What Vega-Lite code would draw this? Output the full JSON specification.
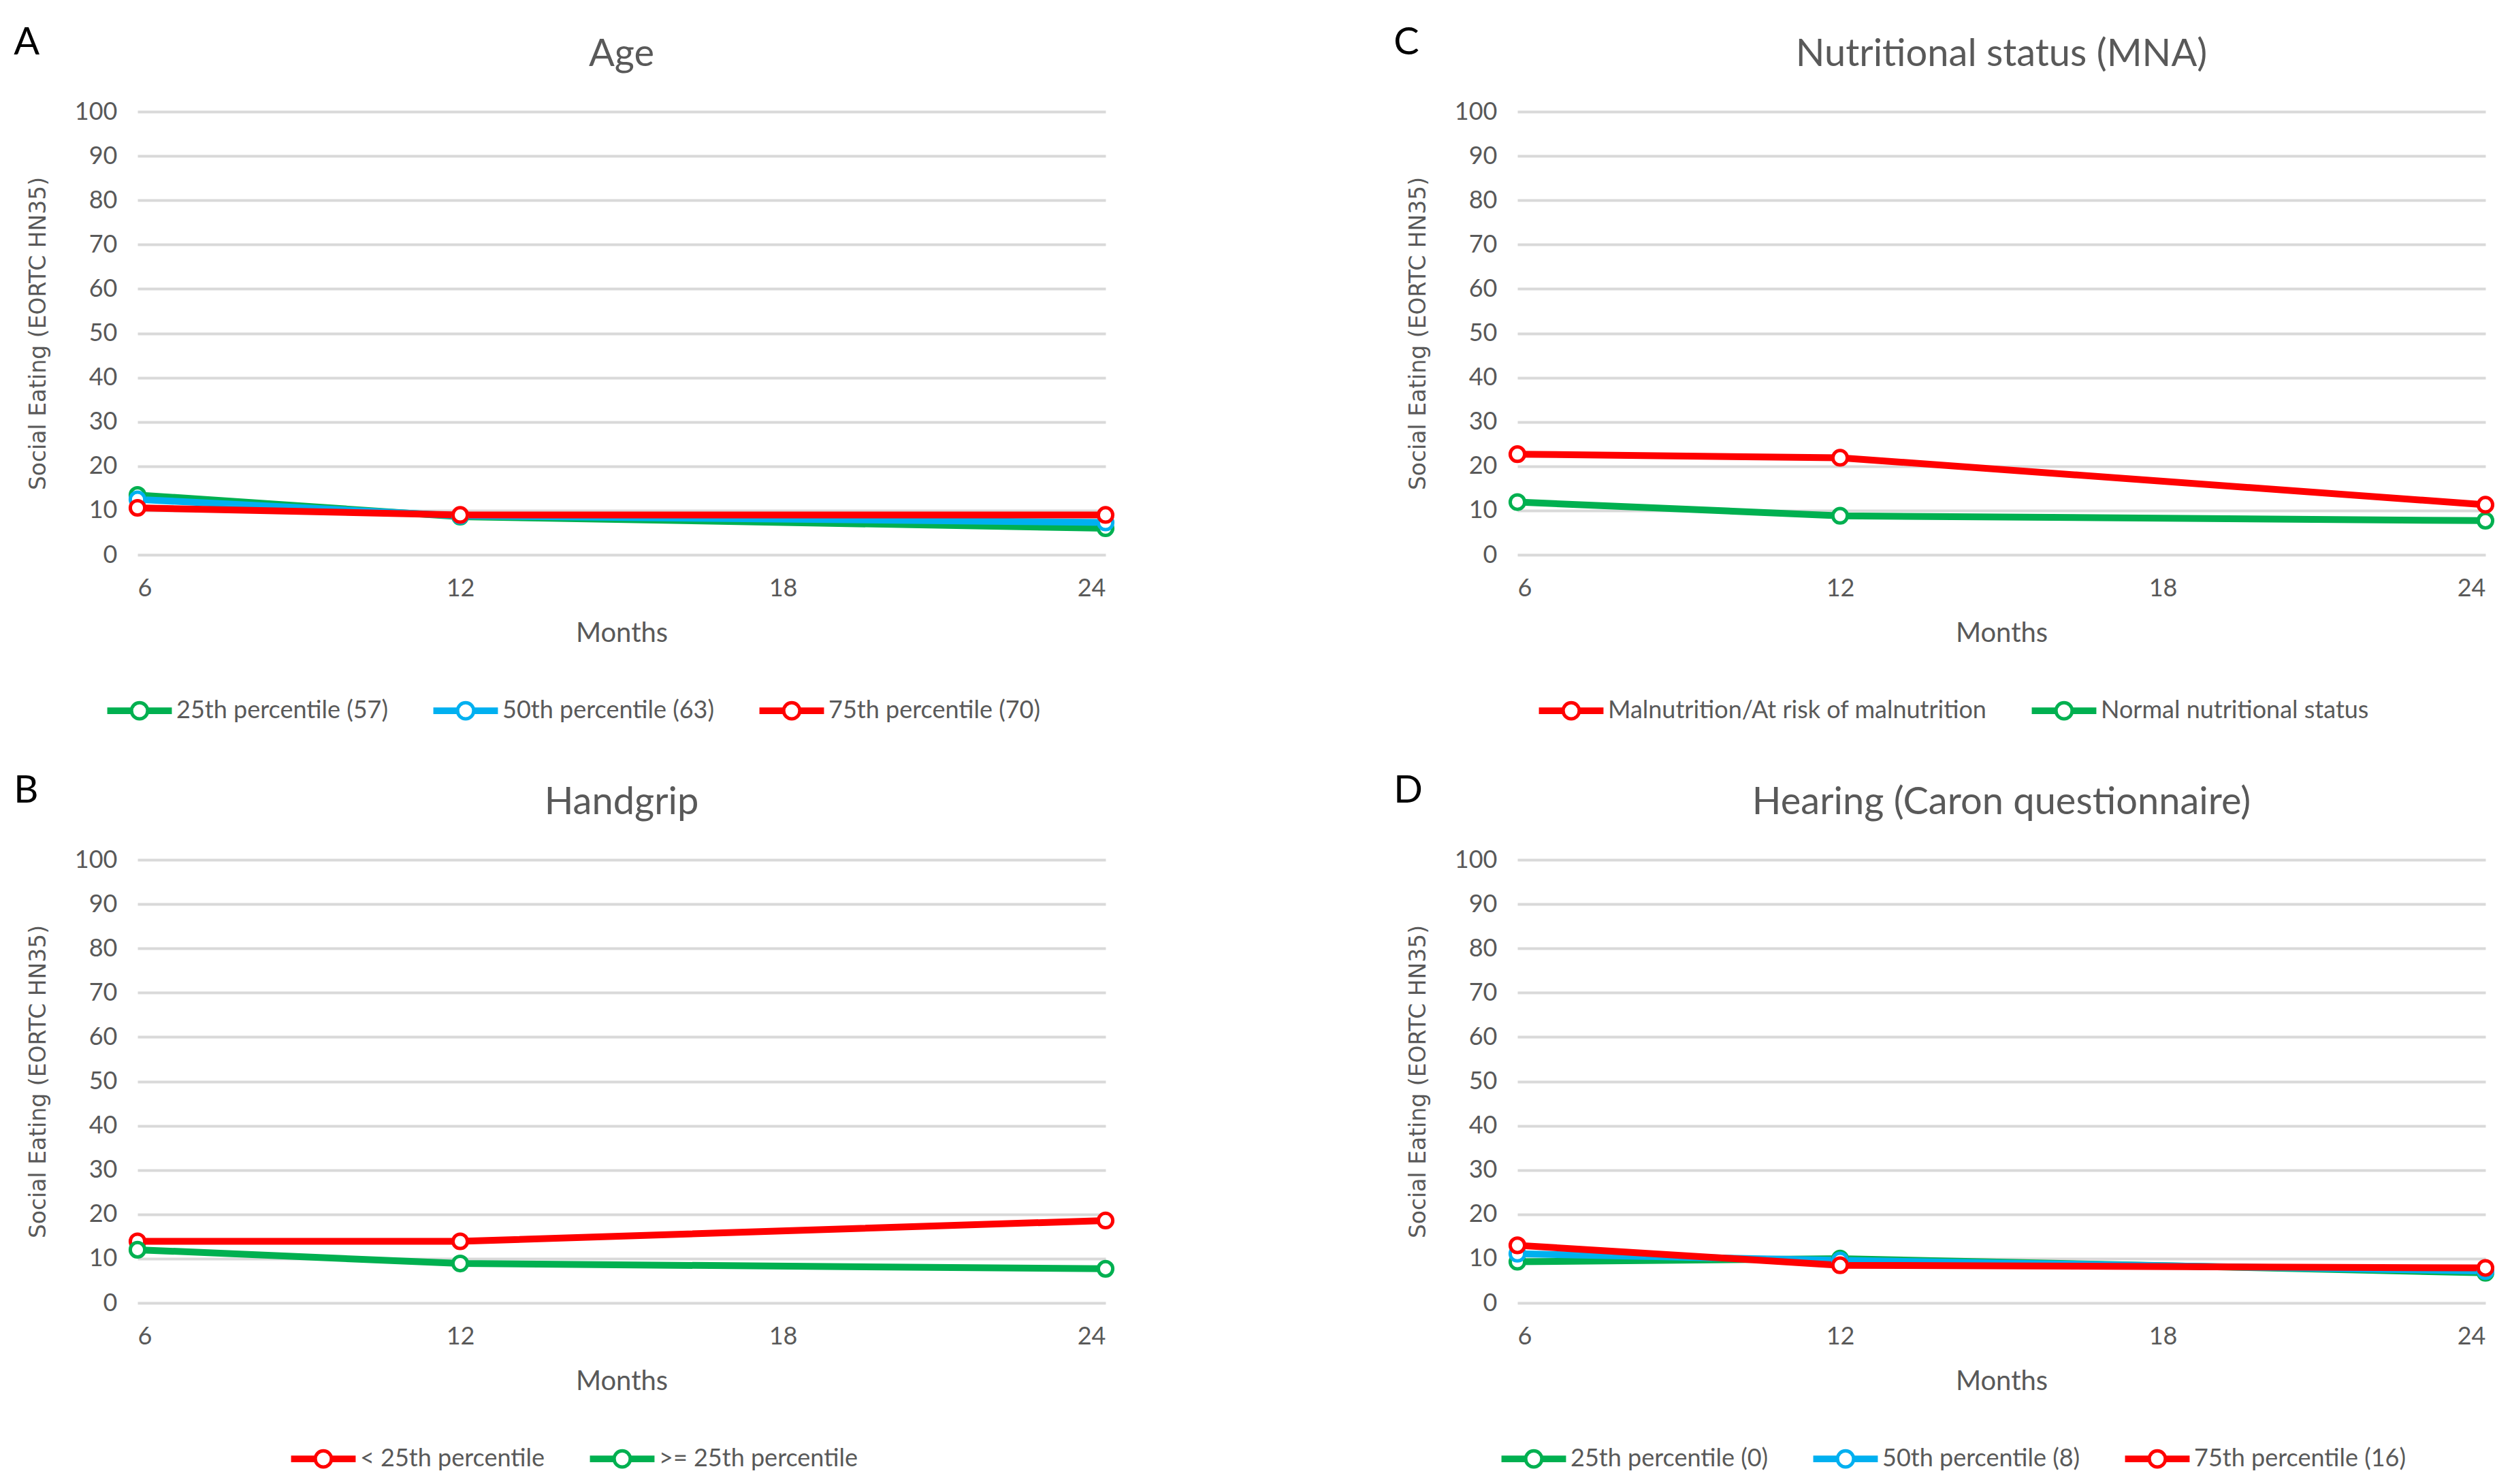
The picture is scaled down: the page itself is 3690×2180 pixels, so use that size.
{
  "$schema": "https://vega.github.io/schema/vega-lite/v6.json",
  "background": "white",
  "padding": {"left": 20, "top": 35, "right": 10, "bottom": 0},
  "datasets": {
    "age": [
      {"series": "25th percentile (57)", "month": 6, "value": 13.5},
      {"series": "25th percentile (57)", "month": 12, "value": 8.6},
      {"series": "25th percentile (57)", "month": 24, "value": 6.0},
      {"series": "50th percentile (63)", "month": 6, "value": 12.5},
      {"series": "50th percentile (63)", "month": 12, "value": 8.8},
      {"series": "50th percentile (63)", "month": 24, "value": 7.3},
      {"series": "75th percentile (70)", "month": 6, "value": 10.6},
      {"series": "75th percentile (70)", "month": 12, "value": 9.0},
      {"series": "75th percentile (70)", "month": 24, "value": 9.0}
    ],
    "mna": [
      {"series": "Normal nutritional status", "month": 6, "value": 11.9},
      {"series": "Normal nutritional status", "month": 12, "value": 8.8},
      {"series": "Normal nutritional status", "month": 24, "value": 7.7},
      {"series": "Malnutrition/At risk of malnutrition", "month": 6, "value": 22.7},
      {"series": "Malnutrition/At risk of malnutrition", "month": 12, "value": 21.9},
      {"series": "Malnutrition/At risk of malnutrition", "month": 24, "value": 11.3}
    ],
    "handgrip": [
      {"series": "< 25th percentile", "month": 6, "value": 13.9},
      {"series": "< 25th percentile", "month": 12, "value": 13.9},
      {"series": "< 25th percentile", "month": 24, "value": 18.6},
      {"series": ">= 25th percentile", "month": 6, "value": 12.0},
      {"series": ">= 25th percentile", "month": 12, "value": 8.9},
      {"series": ">= 25th percentile", "month": 24, "value": 7.7}
    ],
    "hearing": [
      {"series": "25th percentile (0)", "month": 6, "value": 9.3},
      {"series": "25th percentile (0)", "month": 12, "value": 10.0},
      {"series": "25th percentile (0)", "month": 24, "value": 6.8},
      {"series": "50th percentile (8)", "month": 6, "value": 11.1},
      {"series": "50th percentile (8)", "month": 12, "value": 9.6},
      {"series": "50th percentile (8)", "month": 24, "value": 7.2},
      {"series": "75th percentile (16)", "month": 6, "value": 13.0},
      {"series": "75th percentile (16)", "month": 12, "value": 8.5},
      {"series": "75th percentile (16)", "month": 24, "value": 7.9}
    ]
  },
  "spacing": 68,
  "resolve": {"scale": {"color": "independent", "x": "independent", "y": "independent"}, "legend": {"color": "independent"}},
  "vconcat": [
    {
      "spacing": 402,
      "resolve": {"scale": {"color": "independent", "x": "independent", "y": "independent"}, "legend": {"color": "independent"}},
      "hconcat": [
        {
          "title": {"text": "A", "anchor": "start", "fontSize": 56, "color": "black", "font": "Lato", "fontWeight": "normal", "offset": -40, "dx": -20},
          "vconcat": [
            {
              "width": 1422, "height": 651,
              "data": {"name": "age"},
              "title": {"text": "Age"},
              "encoding": {
                "x": {"field": "month", "type": "quantitative", "scale": {"domain": [6, 24]}, "axis": {"values": [6, 12, 18, 24], "title": "Months", "grid": false}},
                "y": {"field": "value", "type": "quantitative", "scale": {"domain": [0, 100]}, "axis": {"values": [0, 10, 20, 30, 40, 50, 60, 70, 80, 90, 100], "title": "Social Eating (EORTC HN35)"}},
                "color": {"field": "series", "type": "nominal", "scale": {"domain": ["25th percentile (57)", "50th percentile (63)", "75th percentile (70)"], "range": ["#00B050", "#00B0F0", "#FF0000"]}, "legend": {"title": null}}
              },
              "layer": [
                {"mark": {"type": "line", "strokeWidth": 10}},
                {"mark": {"type": "point", "filled": false, "fill": "white", "strokeWidth": 5, "size": 450, "opacity": 1}}
              ]
            }
          ]
        },
        {
          "title": {"text": "C", "anchor": "start", "fontSize": 56, "color": "black", "font": "Lato", "fontWeight": "normal", "offset": -40, "dx": -20},
          "vconcat": [
            {
              "width": 1422, "height": 651,
              "data": {"name": "mna"},
              "title": {"text": "Nutritional status (MNA)"},
              "encoding": {
                "x": {"field": "month", "type": "quantitative", "scale": {"domain": [6, 24]}, "axis": {"values": [6, 12, 18, 24], "title": "Months", "grid": false}},
                "y": {"field": "value", "type": "quantitative", "scale": {"domain": [0, 100]}, "axis": {"values": [0, 10, 20, 30, 40, 50, 60, 70, 80, 90, 100], "title": "Social Eating (EORTC HN35)"}},
                "color": {"field": "series", "type": "nominal", "scale": {"domain": ["Malnutrition/At risk of malnutrition", "Normal nutritional status"], "range": ["#FF0000", "#00B050"]}, "legend": {"title": null}}
              },
              "layer": [
                {"mark": {"type": "line", "strokeWidth": 10}},
                {"mark": {"type": "point", "filled": false, "fill": "white", "strokeWidth": 5, "size": 450, "opacity": 1}}
              ]
            }
          ]
        }
      ]
    },
    {
      "spacing": 402,
      "resolve": {"scale": {"color": "independent", "x": "independent", "y": "independent"}, "legend": {"color": "independent"}},
      "hconcat": [
        {
          "title": {"text": "B", "anchor": "start", "fontSize": 56, "color": "black", "font": "Lato", "fontWeight": "normal", "offset": -40, "dx": -20},
          "vconcat": [
            {
              "width": 1422, "height": 651,
              "data": {"name": "handgrip"},
              "title": {"text": "Handgrip"},
              "encoding": {
                "x": {"field": "month", "type": "quantitative", "scale": {"domain": [6, 24]}, "axis": {"values": [6, 12, 18, 24], "title": "Months", "grid": false}},
                "y": {"field": "value", "type": "quantitative", "scale": {"domain": [0, 100]}, "axis": {"values": [0, 10, 20, 30, 40, 50, 60, 70, 80, 90, 100], "title": "Social Eating (EORTC HN35)"}},
                "color": {"field": "series", "type": "nominal", "scale": {"domain": ["< 25th percentile", ">= 25th percentile"], "range": ["#FF0000", "#00B050"]}, "legend": {"title": null}}
              },
              "layer": [
                {"mark": {"type": "line", "strokeWidth": 10}},
                {"mark": {"type": "point", "filled": false, "fill": "white", "strokeWidth": 5, "size": 450, "opacity": 1}}
              ]
            }
          ]
        },
        {
          "title": {"text": "D", "anchor": "start", "fontSize": 56, "color": "black", "font": "Lato", "fontWeight": "normal", "offset": -40, "dx": -20},
          "vconcat": [
            {
              "width": 1422, "height": 651,
              "data": {"name": "hearing"},
              "title": {"text": "Hearing (Caron questionnaire)"},
              "encoding": {
                "x": {"field": "month", "type": "quantitative", "scale": {"domain": [6, 24]}, "axis": {"values": [6, 12, 18, 24], "title": "Months", "grid": false}},
                "y": {"field": "value", "type": "quantitative", "scale": {"domain": [0, 100]}, "axis": {"values": [0, 10, 20, 30, 40, 50, 60, 70, 80, 90, 100], "title": "Social Eating (EORTC HN35)"}},
                "color": {"field": "series", "type": "nominal", "scale": {"domain": ["25th percentile (0)", "50th percentile (8)", "75th percentile (16)"], "range": ["#00B050", "#00B0F0", "#FF0000"]}, "legend": {"title": null}}
              },
              "layer": [
                {"mark": {"type": "line", "strokeWidth": 10}},
                {"mark": {"type": "point", "filled": false, "fill": "white", "strokeWidth": 5, "size": 450, "opacity": 1}}
              ]
            }
          ]
        }
      ]
    }
  ],
  "config": {
    "view": {"stroke": null},
    "title": {"font": "Lato", "fontSize": 56, "fontWeight": "normal", "color": "#595959", "offset": 37},
    "axis": {
      "domain": false, "ticks": false,
      "labelFont": "Lato", "labelFontSize": 36, "labelColor": "#595959",
      "titleFont": "Lato", "titleFontSize": 40, "titleFontWeight": "normal", "titleColor": "#595959",
      "gridColor": "#D9D9D9", "gridWidth": 4
    },
    "axisX": {"labelPadding": 32, "titlePadding": 28},
    "axisY": {"labelPadding": 30, "titlePadding": 36, "titleFont": "DejaVu Sans", "titleFontSize": 33},
    "legend": {
      "orient": "bottom", "direction": "horizontal", "offset": 44,
      "labelFont": "Lato", "labelFontSize": 36, "labelColor": "#595959", "labelLimit": 0,
      "symbolType": "M-1,-0.05 L-0.25,-0.05 M-1,0.05 L-0.25,0.05 M0.25,-0.05 L1,-0.05 M0.25,0.05 L1,0.05 M0.25,0 A0.25,0.25 0 1,1 -0.25,0 A0.25,0.25 0 1,1 0.25,0",
      "symbolSize": 9000, "symbolStrokeWidth": 5, "columnPadding": 55, "labelOffset": 4,
      "layout": {"bottom": {"anchor": "middle"}}
    }
  }
}
